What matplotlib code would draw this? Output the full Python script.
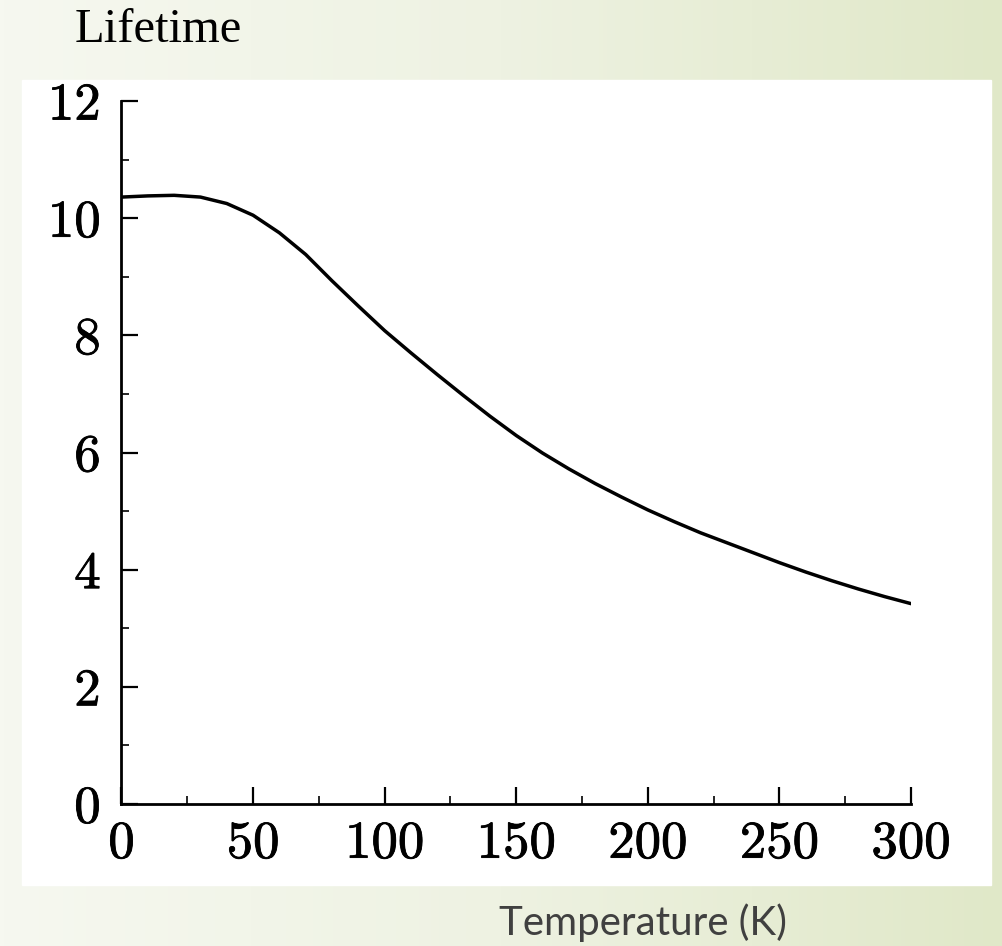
import numpy as np
import matplotlib.pyplot as plt
import matplotlib.patheffects as pe
from matplotlib.colors import LinearSegmentedColormap
from matplotlib.patches import Rectangle
from matplotlib.ticker import MultipleLocator

# values
temperature = [0, 10, 20, 30, 40, 50, 60, 70, 80, 90, 100, 110, 120, 130, 140, 150,
               160, 170, 180, 190, 200, 210, 220, 230, 240, 250, 260, 270, 280, 290, 300]
lifetime = [10.36, 10.38, 10.39, 10.36, 10.25, 10.05, 9.75, 9.38, 8.93, 8.50, 8.08,
            7.70, 7.33, 6.97, 6.62, 6.29, 5.99, 5.72, 5.47, 5.24, 5.02, 4.82, 4.63,
            4.46, 4.29, 4.12, 3.96, 3.81, 3.67, 3.54, 3.42]
xticks = [0, 50, 100, 150, 200, 250, 300]
yticks = [0, 2, 4, 6, 8, 10, 12]

W, H = 1003, 946
fig = plt.figure(figsize=(W / 100, H / 100), dpi=100)

# pale green slide background
bg = fig.add_axes([0, 0, 1, 1], zorder=-2)
grad = np.linspace(0, 1, 256)[None, :]
bg.imshow(grad, aspect='auto', extent=[0, 1, 0, 1],
          cmap=LinearSegmentedColormap.from_list('g', ['#f6f8f0', '#eef2e2', '#e0e8c8']))
bg.add_patch(Rectangle((22 / W, 1 - 885 / H), (991 - 22) / W, (885 - 80) / H,
                       color='white', transform=bg.transAxes))
bg.set_xlim(0, 1)
bg.set_ylim(0, 1)
bg.axis('off')

ax = fig.add_axes([121.5 / W, 1 - 804 / H, (911 - 121.5) / W, (804 - 101) / H])
ax.set_facecolor('none')
ax.plot(temperature, lifetime, color='black', lw=2.5,
        solid_capstyle='round', solid_joinstyle='round')
ax.set_xlim(0, 300)
ax.set_ylim(0, 12)
ax.spines['top'].set_visible(False)
ax.spines['right'].set_visible(False)
for s in ['left', 'bottom']:
    ax.spines[s].set_linewidth(2)
ax.set_xticks(xticks)
ax.set_yticks(yticks)
ax.xaxis.set_minor_locator(MultipleLocator(25))
ax.yaxis.set_minor_locator(MultipleLocator(1))
ax.tick_params(which='major', direction='in', length=12, width=1.6, labelsize=38, pad=12)
ax.tick_params(which='minor', direction='in', length=6, width=1.2)
ax.tick_params(axis='y', pad=15)
for lab in ax.get_xticklabels() + ax.get_yticklabels():
    lab.set_family('cmr10')
    lab.set_path_effects([pe.withStroke(linewidth=0.6, foreground='black')])

fig.text(75 / W, 1 - 42 / H, 'Lifetime', family='Liberation Serif', fontsize=35,
         color='black', ha='left', va='baseline')
fig.text(499 / W, 1 - 935 / H, 'Temperature (K)', family='Lato', fontsize=29,
         color='#404040', ha='left', va='baseline')

fig.savefig('out.png', dpi=100)
